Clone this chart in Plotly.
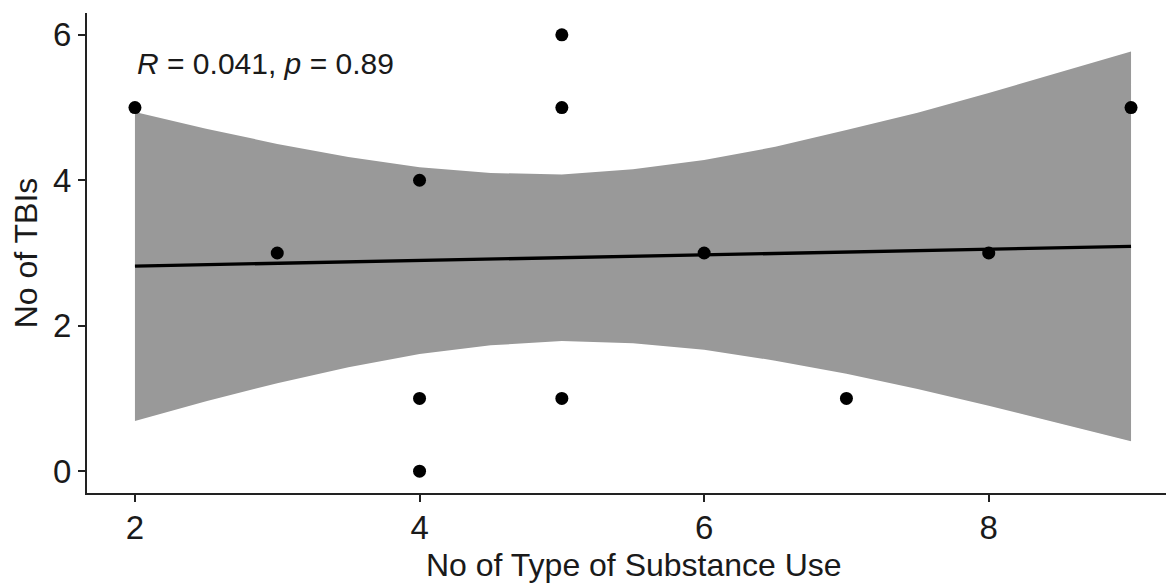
import plotly.graph_objects as go

# Observed points
substance_types = [2, 3, 4, 4, 4, 5, 5, 5, 6, 7, 8, 9]
tbi_counts = [5, 3, 4, 1, 0, 6, 5, 1, 3, 1, 3, 5]

# Fitted regression line and 95% confidence band
fit_x = [2, 2.5, 3, 3.5, 4, 4.5, 5, 5.5, 6, 6.5, 7, 7.5, 8, 8.5, 9]
fit_y = [2.82, 2.84, 2.86, 2.88, 2.89, 2.91, 2.93, 2.95, 2.97, 2.99, 3.01, 3.03, 3.05, 3.07, 3.09]
ci_upper = [4.94, 4.71, 4.50, 4.32, 4.18, 4.10, 4.08, 4.15, 4.28, 4.46, 4.69, 4.93, 5.20, 5.48, 5.77]
ci_lower = [0.69, 0.96, 1.21, 1.43, 1.61, 1.73, 1.79, 1.76, 1.67, 1.52, 1.34, 1.13, 0.90, 0.66, 0.41]

x_ticks = [2, 4, 6, 8]
y_ticks = [0, 2, 4, 6]
stat_label = "<i>R</i> = 0.041, <i>p</i> = 0.89"
x_title = "No of Type of Substance Use"
y_title = "No of TBIs"

FONT = "Liberation Sans, Arial, sans-serif"
TXT = "#1a1a1a"

# page has an 8px body margin; figure sized to fit the window exactly
OFF = 8
W, H = 1174 - OFF, 586 - OFF
L, R, T, B = 87 - OFF, 0, 13 - OFF, 93

fig = go.Figure()

fig.add_trace(go.Scatter(
    x=fit_x + fit_x[::-1], y=ci_upper + ci_lower[::-1],
    fill="toself", fillcolor="#999999", line=dict(width=0),
    mode="lines", hoverinfo="skip", showlegend=False))

fig.add_trace(go.Scatter(
    x=substance_types, y=tbi_counts, mode="markers",
    marker=dict(color="black", size=13), showlegend=False))

fig.add_trace(go.Scatter(
    x=fit_x, y=fit_y, mode="lines",
    line=dict(color="black", width=3.3), showlegend=False))

fig.add_annotation(
    x=2, y=5.6, xref="x", yref="y", text=stat_label, showarrow=False,
    xanchor="left", yanchor="middle", font=dict(family=FONT, size=30, color=TXT))


def px_to_paper(px, py):
    fx, fy = px - OFF, py - OFF
    return (fx - L) / (W - L - R), (H - fy - B) / (H - T - B)


xt = px_to_paper(634, 565)
fig.add_annotation(
    x=xt[0], y=xt[1], xref="paper", yref="paper", text=x_title, showarrow=False,
    xanchor="center", yanchor="middle", font=dict(family=FONT, size=32, color=TXT))

fig.update_layout(
    width=W, height=H,
    margin=dict(l=L, r=R, t=T, b=B, autoexpand=False),
    paper_bgcolor="white", plot_bgcolor="white",
    font=dict(family=FONT, color=TXT),
)

fig.update_xaxes(
    range=[1.663, 9.302], tickvals=x_ticks, ticktext=[str(v) for v in x_ticks],
    showgrid=False, zeroline=False, showline=True, linecolor="#222222", linewidth=2,
    ticks="outside", ticklen=7, tickwidth=2, tickcolor="#222222",
    tickfont=dict(family=FONT, size=33, color=TXT), automargin=False,
    ticklabelstandoff=-3,
)
fig.update_yaxes(
    range=[-0.3, 6.3], tickvals=y_ticks, ticktext=[str(v) for v in y_ticks],
    showgrid=False, zeroline=False, showline=True, linecolor="#222222", linewidth=2,
    ticks="outside", ticklen=7, tickwidth=2, tickcolor="#222222",
    tickfont=dict(family=FONT, size=33, color=TXT), automargin=False,
    title=dict(text=y_title, font=dict(family=FONT, size=32, color=TXT), standoff=9),
)

fig.write_html("out.html")
